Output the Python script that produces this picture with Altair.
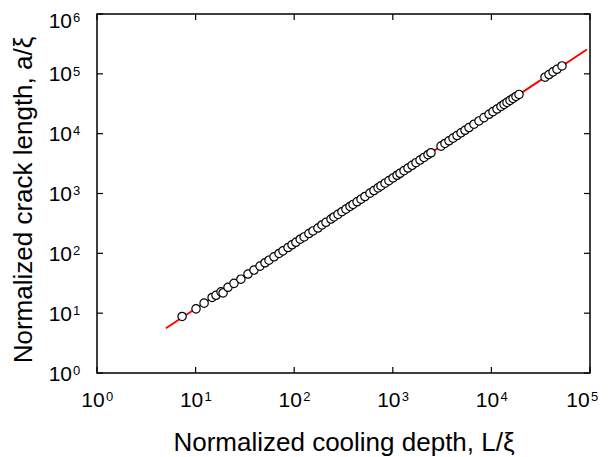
import altair as alt
import pandas as pd

# Normalized cooling depth L/xi (x) and normalized crack length a/xi (y)
L_vals = [7.3, 10.1, 12.2, 14.7, 16.1, 18.1, 19.0, 21.3, 24.5, 28.8, 34.0, 39.1, 45.0, 50.6,
          55.5, 62.4, 70.2, 76.9, 86.5, 95.0, 104, 115, 126, 141, 155, 174, 191, 210, 236,
          253, 278, 305, 335, 368, 395, 434, 476, 522, 587, 644, 708, 759, 834, 914, 1005,
          1104, 1183, 1300, 1426, 1567, 1718, 1888, 2070, 2275, 2438,
          3083, 3381, 3715, 4080, 4477, 4920, 5400, 5930, 6660, 7480, 8410, 9460, 10380,
          11400, 12510, 13430, 14390, 15450, 16560, 17750, 19050,
          35000, 38370, 42170, 46240, 52000]
a_vals = [8.8, 11.8, 14.7, 18.3, 19.9, 22.7, 21.8, 27.1, 31.5, 37.0, 45.1, 52.5, 61.2, 69.6,
          76.9, 87.5, 99.5, 110, 125, 139, 153, 172, 188, 214, 237, 265, 298, 330, 374,
          405, 448, 496, 548, 608, 656, 727, 804, 891, 1014, 1120, 1242, 1340, 1486, 1641, 1820,
          2018, 2178, 2410, 2667, 2958, 3273, 3622, 4009, 4446, 4797,
          6194, 6855, 7603, 8414, 9311, 10330, 11400, 12650, 14380, 16330, 18550, 21090, 23330,
          25830, 28580, 30900, 33340, 35990, 38820, 41880, 45290,
          87900, 97200, 107900, 119100, 135500]

fit_L = [5.0, 93000]
fit_a = [5.6, 255000]

x_ticks = [1, 10, 100, 1000, 10000, 100000]
y_ticks = [1, 10, 100, 1000, 10000, 100000, 1000000]

W, H = 493, 359
TICK = 6
FONT = "Liberation Sans"
BASE_FS = 21
SUP_FS = 13

xscale = alt.Scale(type="log", domain=[1, 1e5], nice=False)
yscale = alt.Scale(type="log", domain=[1, 1e6], nice=False)

xaxis = alt.Axis(values=x_ticks, labels=False, ticks=False, domain=False, grid=False,
                 title="Normalized cooling depth, L/\u03be", titleFontSize=26,
                 titleX=W / 2, titleY=77, titleAlign="center", titleBaseline="alphabetic")
yaxis = alt.Axis(values=y_ticks, labels=False, ticks=False, domain=False, grid=False,
                 title="Normalized crack length, a/\u03be", titleFontSize=26, titleAngle=270,
                 titleX=-74, titleY=H / 2 + 6, titleAlign="center", titleBaseline="middle")

pts = pd.DataFrame({"L": L_vals, "a": a_vals})
fit = pd.DataFrame({"L": fit_L, "a": fit_a})
xt = pd.DataFrame({"L": x_ticks})
yt = pd.DataFrame({"a": y_ticks})

X = alt.X("L:Q", scale=xscale, axis=xaxis)
Y = alt.Y("a:Q", scale=yscale, axis=yaxis)

line = alt.Chart(fit).mark_line(color="#ff0000", strokeWidth=2).encode(x=X, y=Y)

points = alt.Chart(pts).mark_point(
    shape="circle", filled=True, fill="white", stroke="black",
    strokeWidth=1.2, size=70, opacity=1
).encode(x=X, y=Y)

rule = dict(color="black", strokeWidth=1.2)
tb = alt.Chart(xt).mark_rule(**rule).encode(x=X, y=alt.value(H), y2=alt.value(H - TICK))
tt = alt.Chart(xt).mark_rule(**rule).encode(x=X, y=alt.value(0), y2=alt.value(TICK))
tl = alt.Chart(yt).mark_rule(**rule).encode(y=Y, x=alt.value(0), x2=alt.value(TICK))
tr = alt.Chart(yt).mark_rule(**rule).encode(y=Y, x=alt.value(W), x2=alt.value(W - TICK))

# tick labels 10^n drawn as base "10" plus raised exponent
xexp = alt.Chart(xt).transform_calculate(e="'' + round(log(datum.L)/LN10)")
yexp = alt.Chart(yt).transform_calculate(e="'' + round(log(datum.a)/LN10)")

xl = xexp.transform_filter("datum.L < 50000").mark_text(
    text="10", font=FONT, fontSize=BASE_FS, align="center", baseline="alphabetic", dx=-4
).encode(x=X, y=alt.value(H + 34))
xl_last = xexp.transform_filter("datum.L > 50000").mark_text(
    text="10", font=FONT, fontSize=BASE_FS, align="center", baseline="alphabetic", dx=-12
).encode(x=X, y=alt.value(H + 34))
xs = xexp.transform_filter("datum.L < 50000").mark_text(
    font=FONT, fontSize=SUP_FS, align="left", baseline="alphabetic", dx=9
).encode(x=X, y=alt.value(H + 28.3), text="e:N")
xs_last = xexp.transform_filter("datum.L > 50000").mark_text(
    font=FONT, fontSize=SUP_FS, align="left", baseline="alphabetic", dx=1
).encode(x=X, y=alt.value(H + 28.3), text="e:N")

yl = yexp.transform_filter("datum.a < 500000").mark_text(
    text="10", font=FONT, fontSize=BASE_FS, align="right", baseline="alphabetic", dy=7.5
).encode(y=Y, x=alt.value(-25))
yl_top = yexp.transform_filter("datum.a > 500000").mark_text(
    text="10", font=FONT, fontSize=BASE_FS, align="right", baseline="alphabetic", dy=14
).encode(y=Y, x=alt.value(-25))
ys = yexp.transform_filter("datum.a < 500000").mark_text(
    font=FONT, fontSize=SUP_FS, align="left", baseline="alphabetic", dy=1.8
).encode(y=Y, x=alt.value(-24), text="e:N")
ys_top = yexp.transform_filter("datum.a > 500000").mark_text(
    font=FONT, fontSize=SUP_FS, align="left", baseline="alphabetic", dy=8.3
).encode(y=Y, x=alt.value(-24), text="e:N")

chart = alt.layer(line, points, tb, tt, tl, tr, xl, xl_last, xs, xs_last,
                  yl, yl_top, ys, ys_top).properties(
    width=W, height=H,
    autosize=alt.AutoSizeParams(type="none"),
    padding={"left": 89, "top": 6, "right": 10, "bottom": 84},
).configure_axis(
    titleFont=FONT, titleColor="black", titleFontWeight="normal",
).configure_text(color="black").configure_view(stroke="black", strokeWidth=1.5)

chart.save("out.html", embed_options={"renderer": "svg", "actions": False})
